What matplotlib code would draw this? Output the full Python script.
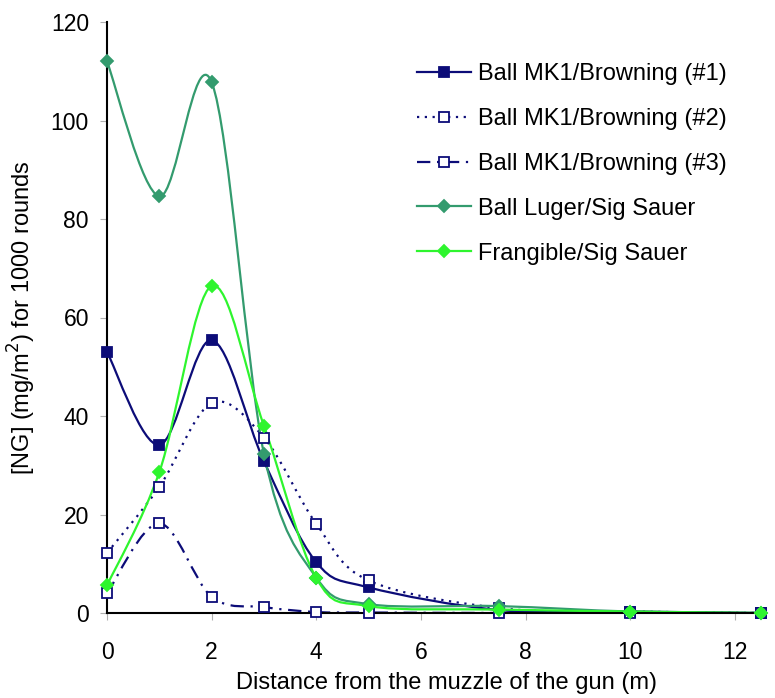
import numpy as np
import matplotlib
matplotlib.use("Agg")
import matplotlib.pyplot as plt
from matplotlib.path import Path
from matplotlib.patches import PathPatch
from matplotlib.lines import Line2D

plt.rcParams['font.family'] = ['Liberation Sans', 'DejaVu Sans']

distance = [0, 1, 2, 3, 4, 5, 7.5, 10, 12.5]
mk1_1 = [53.0, 34.1, 55.4, 30.8, 10.3, 5.2, 0.6, 0.3, 0.0]
mk1_2 = [12.2, 25.6, 42.6, 35.6, 18.1, 6.6, 1.0, 0.3, 0.0]
mk1_3 = [4.0, 18.2, 3.3, 1.2, 0.2, 0.1, 0.0, 0.0, 0.0]
luger = [112.0, 84.6, 107.8, 32.3, 7.2, 1.8, 1.4, 0.3, 0.0]
frang = [5.6, 28.6, 66.4, 38.0, 7.1, 1.4, 0.7, 0.3, 0.0]

labels = ["Ball MK1/Browning (#1)", "Ball MK1/Browning (#2)", "Ball MK1/Browning (#3)",
          "Ball Luger/Sig Sauer", "Frangible/Sig Sauer"]

navy = "#0c0c78"
sea = "#339b6e"
lime = "#2ef52e"
FS = 16.5

fig = plt.figure(figsize=(7.75, 6.98), dpi=100)
ax = fig.add_axes([107/775, 1-613/698, (761-107)/775, (613-22)/698])


def smooth_path(xs, ys):
    pts = np.column_stack([xs, ys]).astype(float)
    n = len(pts)
    verts = [pts[0]]
    codes = [Path.MOVETO]
    for i in range(n - 1):
        p0 = pts[i - 1] if i > 0 else pts[i]
        p1 = pts[i]
        p2 = pts[i + 1]
        p3 = pts[i + 2] if i + 2 < n else pts[i + 1]
        c1 = p1 + (p2 - p0) / 6.0
        c2 = p2 - (p3 - p1) / 6.0
        verts += [c1, c2, p2]
        codes += [Path.CURVE4] * 3
    return Path(verts, codes)


series = [
    (mk1_1, navy, '-', 's', navy, 7),
    (mk1_2, navy, (0, (1, 2.5)), 's', 'white', 6.5),
    (mk1_3, navy, (0, (6, 3, 1, 3)), 's', 'white', 6.5),
    (luger, sea, '-', 'D', sea, 6),
    (frang, lime, '-', 'D', lime, 6),
]

handles = []
for (ys, col, ls, mk, mfc, ms), lab in zip(series, labels):
    patch = PathPatch(smooth_path(distance, ys), facecolor='none', edgecolor=col,
                      linestyle=ls, linewidth=1.6, zorder=2)
    ax.add_patch(patch)
    ax.plot(distance, ys, linestyle='none', marker=mk, markersize=ms,
            markerfacecolor=mfc, markeredgecolor=col, markeredgewidth=1.3, zorder=3,
            clip_on=False)
    handles.append(Line2D([], [], color=col, linestyle=ls, linewidth=1.6, marker=mk,
                          markersize=ms, markerfacecolor=mfc, markeredgecolor=col,
                          markeredgewidth=1.3))

ax.set_xlim(0, 12.5)
ax.set_ylim(0, 120)
ax.set_xticks([0, 2, 4, 6, 8, 10, 12])
ax.set_yticks([0, 20, 40, 60, 80, 100, 120])
ax.spines['top'].set_visible(False)
ax.spines['right'].set_visible(False)
ax.spines['left'].set_linewidth(1.5)
ax.spines['bottom'].set_linewidth(1.5)
ax.tick_params(axis='both', direction='out', length=5, color='#b0b0b0',
               labelsize=FS)
ax.tick_params(axis='y', pad=8)
ax.tick_params(axis='x', pad=15)
ax.set_xlabel("Distance from the muzzle of the gun (m)", fontsize=17)
ax.set_ylabel("[NG] (mg/m$^2$) for 1000 rounds", fontsize=17)
ax.xaxis.set_label_coords((446 - 107) / (761 - 107), -(672 - 613) / (613 - 22))
ax.yaxis.set_label_coords(-(107 - 38) / (761 - 107), 0.5)

leg = fig.legend(handles, labels, loc='upper left',
                 bbox_to_anchor=(417/775, 1 - 63/698), bbox_transform=fig.transFigure,
                 frameon=False, fontsize=17, handlelength=2.3, handletextpad=0.3,
                 labelspacing=0.97, borderaxespad=0, borderpad=0)

fig.savefig("out.png", dpi=100)
